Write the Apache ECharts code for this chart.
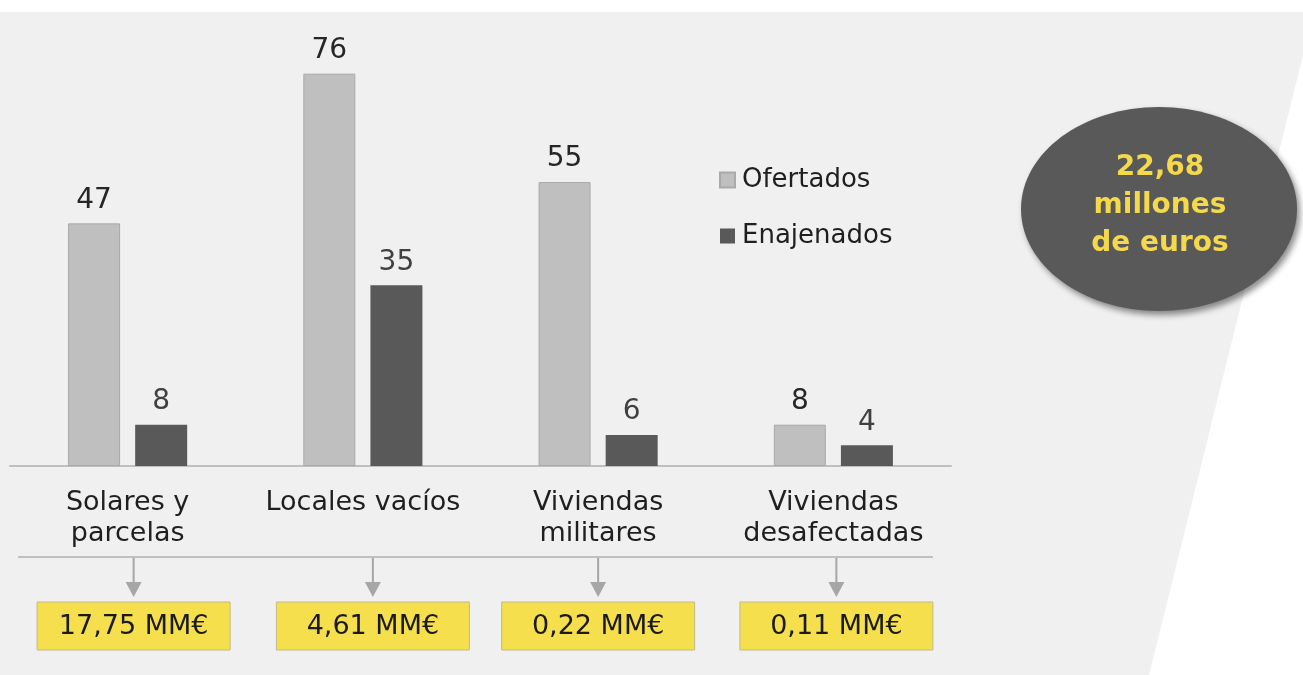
<!DOCTYPE html>
<html lang="es">
<head>
    <meta charset="UTF-8">
    <title>Inmuebles ofertados y enajenados</title>
    <script src="https://cdn.jsdelivr.net/npm/echarts@6/dist/echarts.min.js"></script>
    <style>
        html, body { margin: 0; padding: 0; background: #ffffff; }
    </style>
</head>
<body>
    <div id="main" style="width: 1303px;height:675px;"></div>
    <script type="text/javascript">
        // datos
        var categorias = ['Solares y\nparcelas', 'Locales vacíos', 'Viviendas\nmilitares', 'Viviendas\ndesafectadas'];
        var ofertados = [47, 76, 55, 8];
        var enajenados = [8, 35, 6, 4];
        var importes = ['17,75 MM€', '4,61 MM€', '0,22 MM€', '0,11 MM€'];
        var total = ['22,68', 'millones', 'de euros'];

        var fuente = 'DejaVu Sans';
        var myChart = echarts.init(document.getElementById('main'));

        var option = {
            animation: false,
            textStyle: { fontFamily: fuente },
            grid: { left: 10, right: 352, top: 53, bottom: 209 },
            legend: {
                orient: 'vertical',
                left: 714,
                top: 162,
                itemWidth: 15,
                itemHeight: 15,
                itemGap: 30,
                icon: 'rect',
                textStyle: { fontSize: 26, color: '#1f1f1f', padding: [0, 0, 0, 2] },
                data: ['Ofertados', 'Enajenados']
            },
            xAxis: {
                type: 'category',
                data: categorias,
                axisLine: { lineStyle: { color: '#bfbfbf', width: 2 } },
                axisTick: { show: false },
                axisLabel: {
                    fontSize: 27,
                    lineHeight: 31,
                    color: '#1f1f1f',
                    margin: 21,
                    interval: 0
                }
            },
            yAxis: {
                type: 'value',
                min: 0,
                max: 80,
                show: false,
                splitLine: { show: false }
            },
            series: [{
                name: 'Ofertados',
                type: 'bar',
                data: ofertados,
                barWidth: 52,
                barGap: '29%',
                itemStyle: { color: '#bfbfbf', borderColor: '#a9a9a9', borderWidth: 1 },
                label: { show: true, position: 'top', distance: 9, fontSize: 28, color: '#262626' }
            }, {
                name: 'Enajenados',
                type: 'bar',
                data: enajenados,
                barWidth: 52,
                itemStyle: { color: '#595959' },
                label: { show: true, position: 'top', distance: 9, fontSize: 28, color: '#404040' }
            }]
        };

        myChart.setOption(option);

        // fondo, elipse, flechas e importes
        var graficos = [{
            type: 'polygon',
            z: -10,
            silent: true,
            shape: { points: [[0, 12], [1303, 12], [1303, 55], [1149, 675], [0, 675]] },
            style: { fill: '#f0f0f0' }
        }, {
            type: 'ellipse',
            shape: { cx: 1159, cy: 209, rx: 138, ry: 102 },
            style: {
                fill: '#595959',
                shadowBlur: 6,
                shadowOffsetX: 3,
                shadowOffsetY: 4,
                shadowColor: 'rgba(0,0,0,0.45)'
            }
        }, {
            type: 'text',
            x: 1160,
            y: 206,
            style: {
                text: total.join('\n'),
                font: 'bold 28px "DejaVu Sans"',
                lineHeight: 38,
                fill: '#f3d94b',
                align: 'center',
                verticalAlign: 'middle'
            }
        }, {
            type: 'line',
            shape: { x1: 18, y1: 557, x2: 933, y2: 557 },
            style: { stroke: '#bfbfbf', lineWidth: 2 }
        }];

        var ajustes = [6, 10, 0, 3];
        categorias.forEach(function (c, i) {
            var cx = myChart.convertToPixel({ xAxisIndex: 0 }, i) + ajustes[i];
            graficos.push({
                type: 'line',
                shape: { x1: cx, y1: 558, x2: cx, y2: 584 },
                style: { stroke: '#a6a6a6', lineWidth: 2 }
            });
            graficos.push({
                type: 'polygon',
                shape: { points: [[cx - 8, 582], [cx + 8, 582], [cx, 597]] },
                style: { fill: '#a6a6a6' }
            });
            graficos.push({
                type: 'rect',
                shape: { x: cx - 96.5, y: 602, width: 193, height: 48 },
                style: { fill: '#f5df4d', stroke: '#c2b98a', lineWidth: 1 }
            });
            graficos.push({
                type: 'text',
                x: cx,
                y: 627,
                style: {
                    text: importes[i],
                    font: '27px "DejaVu Sans"',
                    fill: '#1a1a1a',
                    align: 'center',
                    verticalAlign: 'middle'
                }
            });
        });

        myChart.setOption({ graphic: graficos });
    </script>
</body>
</html>
